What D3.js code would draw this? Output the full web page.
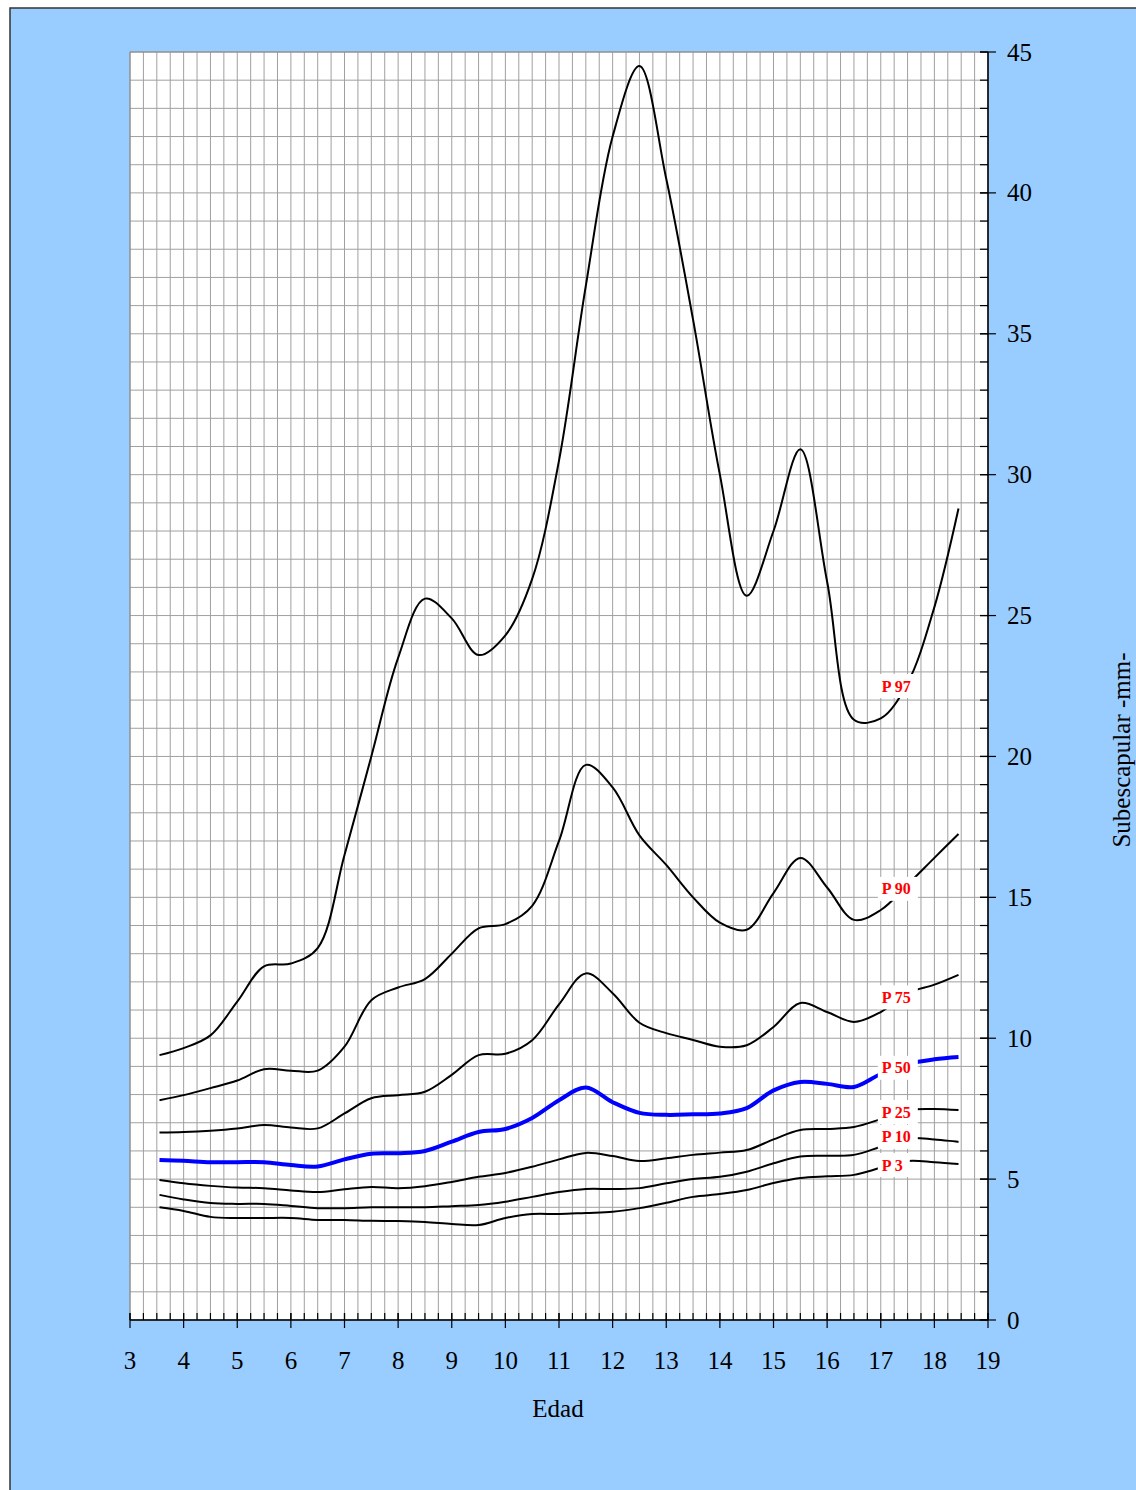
<!DOCTYPE html>
<html>
<head>
<meta charset="utf-8">
<script src="https://cdn.jsdelivr.net/npm/d3@7"></script>
<style>
  html, body { margin: 0; padding: 0; background: #fff; }
  svg { display: block; }
</style>
</head>
<body>
<div id="chart"></div>
<script>
// edades (años) de cada punto de las curvas
const ages = [3.55, 4, 4.5, 5, 5.5, 6, 6.5, 7, 7.5, 8, 8.5, 9, 9.5, 10, 10.5, 11,
              11.5, 12, 12.5, 13, 13.5, 14, 14.5, 15, 15.5, 16, 16.5, 17, 17.5, 18, 18.45];

const p97 = [9.4, 9.65, 10.1, 11.3, 12.55, 12.65, 13.2, 16.5, 20.0, 23.5, 25.6, 24.9, 23.6, 24.3, 26.3, 30.5,
             36.7, 42.0, 44.5, 40.5, 35.5, 30.0, 25.7, 28.0, 30.9, 26.2, 21.3, 21.35, 22.6, 25.3, 28.8];
const p90 = [7.8, 7.98, 8.23, 8.5, 8.9, 8.85, 8.85, 9.7, 11.35, 11.8, 12.1, 13.0, 13.9, 14.05, 14.7, 17.0,
             19.7, 18.9, 17.2, 16.15, 15.0, 14.1, 13.85, 15.15, 16.4, 15.35, 14.2, 14.55, 15.45, 16.4, 17.25];
const p75 = [6.65, 6.67, 6.72, 6.8, 6.92, 6.83, 6.8, 7.33, 7.87, 7.98, 8.1, 8.7, 9.4, 9.45, 9.93, 11.2,
             12.3, 11.6, 10.55, 10.18, 9.94, 9.7, 9.75, 10.4, 11.25, 10.93, 10.58, 10.93, 11.6, 11.9, 12.25];
const p50 = [5.68, 5.65, 5.6, 5.6, 5.6, 5.5, 5.45, 5.7, 5.9, 5.92, 6.0, 6.33, 6.67, 6.78, 7.17, 7.8,
             8.25, 7.73, 7.35, 7.28, 7.3, 7.33, 7.52, 8.15, 8.45, 8.38, 8.27, 8.73, 9.08, 9.25, 9.33];
const p25 = [4.97, 4.85, 4.76, 4.7, 4.68, 4.6, 4.54, 4.64, 4.72, 4.68, 4.75, 4.9, 5.08, 5.22, 5.44, 5.7,
             5.93, 5.82, 5.64, 5.74, 5.86, 5.94, 6.03, 6.41, 6.74, 6.78, 6.85, 7.13, 7.45, 7.49, 7.45];
const p10 = [4.44, 4.28, 4.15, 4.12, 4.12, 4.05, 3.97, 3.97, 4.0, 4.0, 4.0, 4.04, 4.08, 4.2, 4.37, 4.54,
             4.65, 4.65, 4.68, 4.85, 5.0, 5.08, 5.26, 5.56, 5.8, 5.83, 5.86, 6.15, 6.45, 6.41, 6.32];
const p3  = [4.0, 3.87, 3.66, 3.62, 3.62, 3.62, 3.55, 3.55, 3.52, 3.51, 3.48, 3.41, 3.37, 3.62, 3.76, 3.76,
             3.8, 3.84, 3.97, 4.16, 4.37, 4.47, 4.61, 4.86, 5.04, 5.1, 5.15, 5.4, 5.64, 5.6, 5.54];

const seriesNames = ["P 97", "P 90", "P 75", "P 50", "P 25", "P 10", "P 3"];
const seriesValues = [p97, p90, p75, p50, p25, p10, p3];
// valor (mm) donde se apoya cada etiqueta
const labelValues = [22.5, 15.3, 11.45, 8.95, 7.38, 6.5, 5.5];

const xTicks = d3.range(3, 20, 1);
const yTicks = d3.range(0, 50, 5);

const W = 1136, H = 1490;
const margin = { top: 52, right: 148, bottom: 170, left: 130 };
const width = W - margin.left - margin.right;
const height = H - margin.top - margin.bottom;
const font = "'Liberation Serif', 'Times New Roman', serif";

const svg = d3.select("#chart").append("svg")
    .attr("width", W)
    .attr("height", H);

// fondo azul con marco
svg.append("rect")
    .attr("x", 10).attr("y", 8)
    .attr("width", W + 10).attr("height", H + 10)
    .attr("fill", "#99ccff")
    .attr("stroke", "#333")
    .attr("stroke-width", 1.5);

const g = svg.append("g")
    .attr("transform", `translate(${margin.left},${margin.top})`);

const x = d3.scaleLinear().domain([3, 19]).range([0, width]);
const y = d3.scaleLinear().domain([0, 45]).range([height, 0]);

g.append("rect")
    .attr("width", width).attr("height", height)
    .attr("fill", "#fff");

// cuadrícula
g.append("g").selectAll("line")
    .data(d3.range(3, 19.001, 0.25))
    .join("line")
    .attr("x1", d => x(d)).attr("x2", d => x(d))
    .attr("y1", 0).attr("y2", height)
    .attr("stroke", "#a0a0a0")
    .attr("stroke-width", 1);

g.append("g").selectAll("line")
    .data(d3.range(0, 46, 1))
    .join("line")
    .attr("x1", 0).attr("x2", width)
    .attr("y1", d => y(d)).attr("y2", d => y(d))
    .attr("stroke", "#a0a0a0")
    .attr("stroke-width", 1);

g.append("rect")
    .attr("width", width).attr("height", height)
    .attr("fill", "none")
    .attr("stroke", "#888");

// curvas
const line = d3.line()
    .x((d, i) => x(ages[i]))
    .y(d => y(d))
    .curve(d3.curveCatmullRom.alpha(0.5));

seriesValues.forEach((vals, k) => {
    const isMedian = seriesNames[k] === "P 50";
    g.append("path")
        .datum(vals)
        .attr("d", line)
        .attr("fill", "none")
        .attr("stroke", isMedian ? "#0000ff" : "#000")
        .attr("stroke-width", isMedian ? 4 : 2)
        .attr("stroke-linejoin", "round");
});

// etiquetas de percentiles
const labelAge = 17.02;
seriesNames.forEach((name, k) => {
    const lx = x(labelAge), ly = y(labelValues[k]);
    g.append("rect")
        .attr("x", lx - 4).attr("y", ly - 12)
        .attr("width", name.length > 3 ? 40 : 32).attr("height", 24)
        .attr("fill", "#fff");
    g.append("text")
        .attr("x", lx).attr("y", ly)
        .attr("dominant-baseline", "central")
        .attr("font-family", font)
        .attr("font-weight", "bold")
        .attr("font-size", 16)
        .attr("fill", "#ff0000")
        .text(name);
});

// eje X
const xAxis = g.append("g").attr("transform", `translate(0,${height})`);
xAxis.append("line")
    .attr("x1", 0).attr("x2", width)
    .attr("stroke", "#000").attr("stroke-width", 1.5);
xAxis.selectAll(".minor")
    .data(d3.range(3, 19.001, 0.25))
    .join("line")
    .attr("x1", d => x(d)).attr("x2", d => x(d))
    .attr("y1", -7).attr("y2", 0)
    .attr("stroke", "#000").attr("stroke-width", 1.2);
xAxis.selectAll(".major")
    .data(xTicks)
    .join("line")
    .attr("x1", d => x(d)).attr("x2", d => x(d))
    .attr("y1", -7).attr("y2", 8)
    .attr("stroke", "#000").attr("stroke-width", 1.2);
xAxis.selectAll("text")
    .data(xTicks)
    .join("text")
    .attr("x", d => x(d)).attr("y", 49)
    .attr("text-anchor", "middle")
    .attr("font-family", font)
    .attr("font-size", 25)
    .text(d => d);

// eje Y (derecha)
const yAxis = g.append("g").attr("transform", `translate(${width},0)`);
yAxis.append("line")
    .attr("y1", 0).attr("y2", height)
    .attr("stroke", "#000").attr("stroke-width", 1.5);
yAxis.selectAll(".minor")
    .data(d3.range(0, 46, 1))
    .join("line")
    .attr("y1", d => y(d)).attr("y2", d => y(d))
    .attr("x1", -8).attr("x2", 0)
    .attr("stroke", "#000").attr("stroke-width", 1.2);
yAxis.selectAll(".major")
    .data(yTicks)
    .join("line")
    .attr("y1", d => y(d)).attr("y2", d => y(d))
    .attr("x1", -8).attr("x2", 8)
    .attr("stroke", "#000").attr("stroke-width", 1.2);
yAxis.selectAll("text")
    .data(yTicks)
    .join("text")
    .attr("x", 19).attr("y", d => y(d))
    .attr("dominant-baseline", "central")
    .attr("font-family", font)
    .attr("font-size", 25)
    .text(d => d);

// títulos
svg.append("text")
    .attr("x", 558).attr("y", 1417)
    .attr("text-anchor", "middle")
    .attr("font-family", font)
    .attr("font-size", 25)
    .text("Edad");

svg.append("text")
    .attr("transform", "translate(1130,750) rotate(-90)")
    .attr("text-anchor", "middle")
    .attr("font-family", font)
    .attr("font-size", 25)
    .text("Subescapular -mm-");
</script>
</body>
</html>
